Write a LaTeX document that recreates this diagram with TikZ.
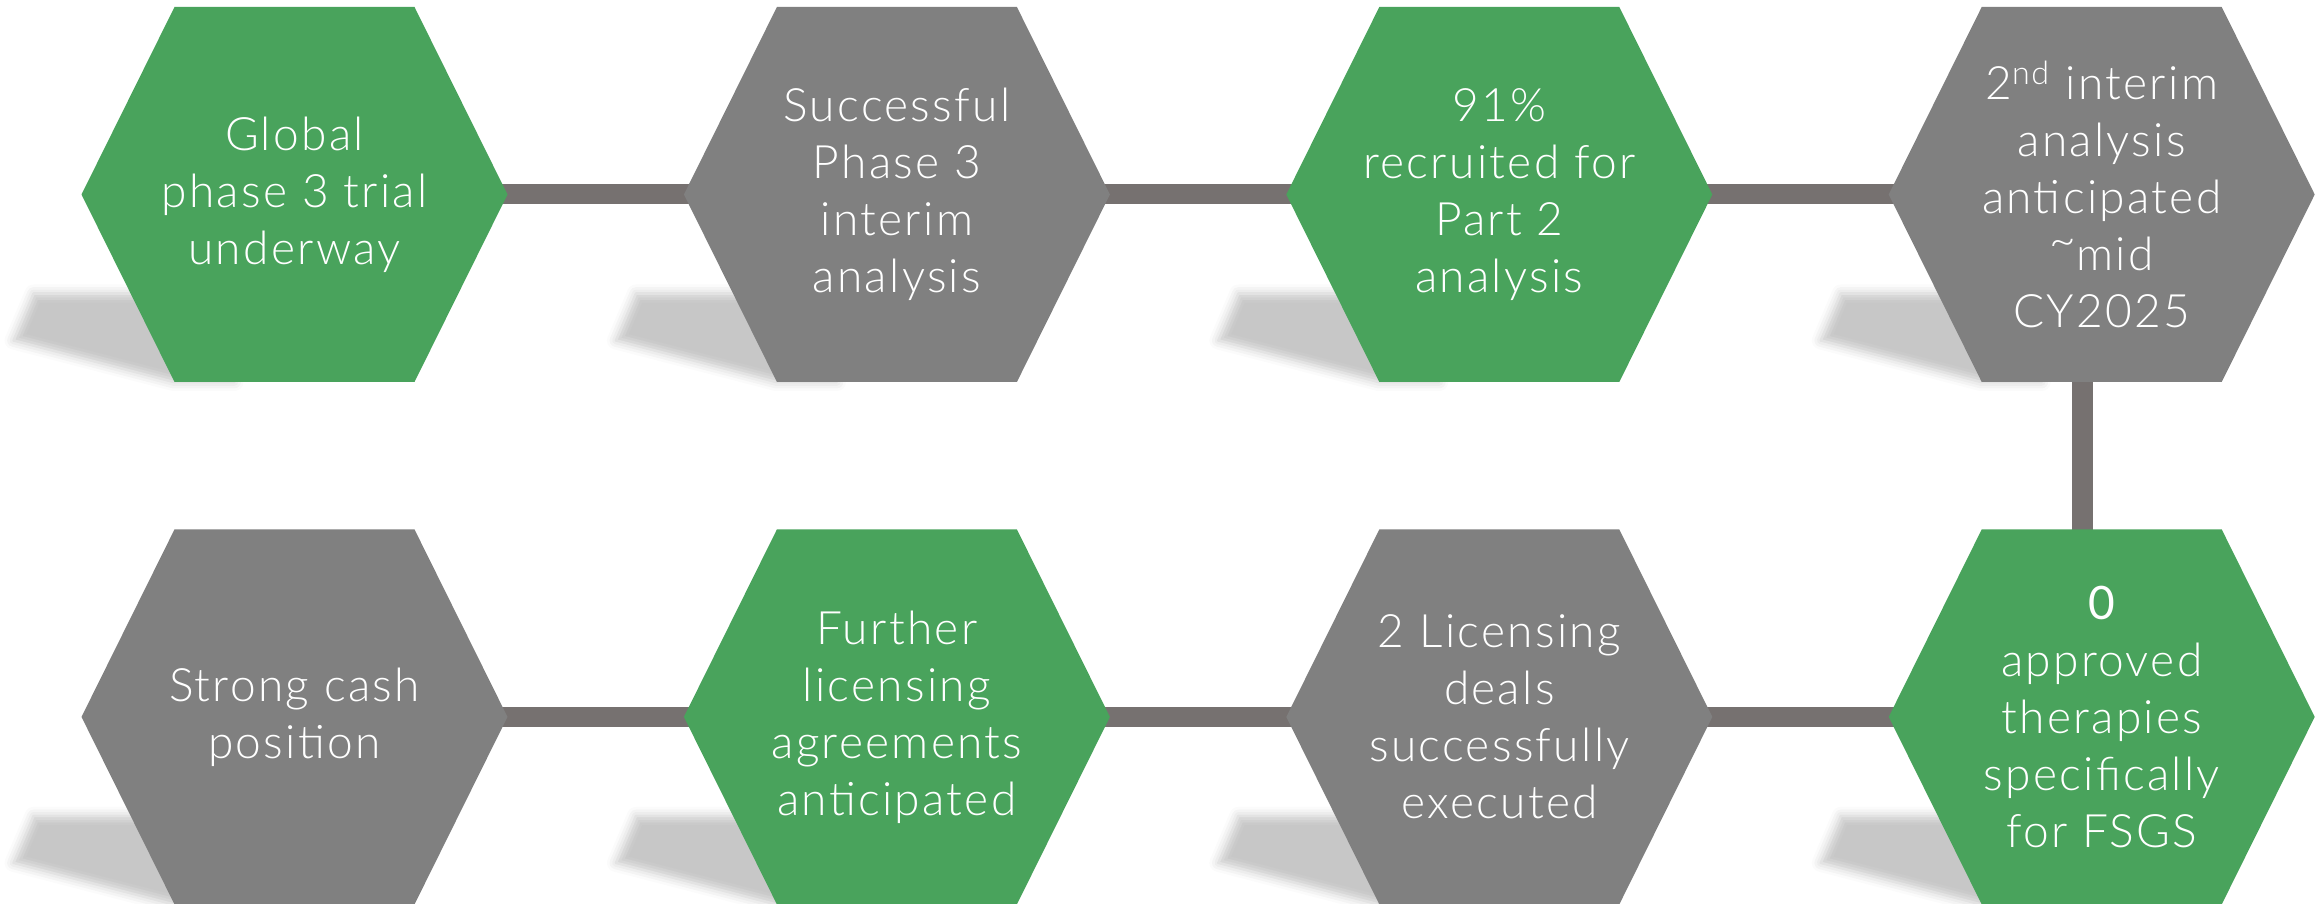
\documentclass[tikz,border=0pt]{standalone}
\usepackage{fontspec}
\setmainfont{Lato Light}[LetterSpace=5]
\newfontfamily\digitfont{Lato}[LetterSpace=5]
\usetikzlibrary{positioning,backgrounds,shadows.blur}
\definecolor{hexgreen}{HTML}{49A35C}
\definecolor{hexgrey}{HTML}{808080}
\definecolor{linkgrey}{HTML}{767170}

\begin{document}
\begin{tikzpicture}[
    node distance=1.46cm and 1.75cm,
    hexa/.style={minimum width=4.26cm, minimum height=3.75cm, inner sep=0pt,
      align=center, text=white, font=\fontsize{13.1}{16.2}\selectfont,
      path picture={\fill[#1] (path picture bounding box.west)
        -- ([xshift=9.3mm]path picture bounding box.north west)
        -- ([xshift=-9.3mm]path picture bounding box.north east)
        -- (path picture bounding box.east)
        -- ([xshift=-9.3mm]path picture bounding box.south east)
        -- ([xshift=9.3mm]path picture bounding box.south west) -- cycle;}},
    link/.style={draw=linkgrey, line width=0.2cm},
    hexshadow/.style={blur shadow={shadow xshift=0pt, shadow yshift=0pt,
      shadow blur radius=0.09cm, shadow opacity=22}},
  ]
  \useasboundingbox (0,0) rectangle (23.2,9.03);

  % upper row
  \node[hexa=hexgreen] (trial) at (2.945,7.085) {Global\\phase 3 trial\\underway};
  \node[hexa=hexgrey, right=of trial] (interim) {Successful\\Phase 3\\interim\\analysis};
  \node[hexa=hexgreen, right=of interim] (recruit) {91\%\\recruited for\\Part 2\\analysis};
  \node[hexa=hexgrey, right=of recruit] (second) {2\textsuperscript{nd} interim\\analysis\\anticipated\\\raisebox{4pt}{\textasciitilde}mid\\CY2025};

  % lower row
  \node[hexa=hexgrey, below=of trial] (cash) {Strong cash\\position};
  \node[hexa=hexgreen, right=of cash] (further) {Further\\licensing\\agreements\\anticipated};
  \node[hexa=hexgrey, right=of further] (deals) {2 Licensing\\deals\\successfully\\executed};
  \node[hexa=hexgreen, right=of deals] (zero) {{\digitfont 0}\\approved\\therapies\\specifically\\for FSGS};

  \begin{scope}[on background layer]
    \foreach \n in {trial,interim,recruit,second,cash,further,deals,zero}
      \path[hexshadow] ([shift={(-2.61,-0.99)}]\n.center)
        -- ([shift={(-0.6,-0.99)}]\n.center) -- ([shift={(-0.6,-1.875)}]\n.center)
        -- ([shift={(-1.21,-1.875)}]\n.center) -- ([shift={(-2.81,-1.46)}]\n.center) -- cycle;
    \draw[link] (trial.center) -- (interim.center) -- (recruit.center) -- (second.center);
    \draw[link] (cash.center) -- (further.center) -- (deals.center) -- (zero.center);
    \draw[link, line width=0.21cm] ([xshift=-1.9mm]second.center) -- ([xshift=-1.9mm]zero.center);
  \end{scope}
\end{tikzpicture}
\end{document}
